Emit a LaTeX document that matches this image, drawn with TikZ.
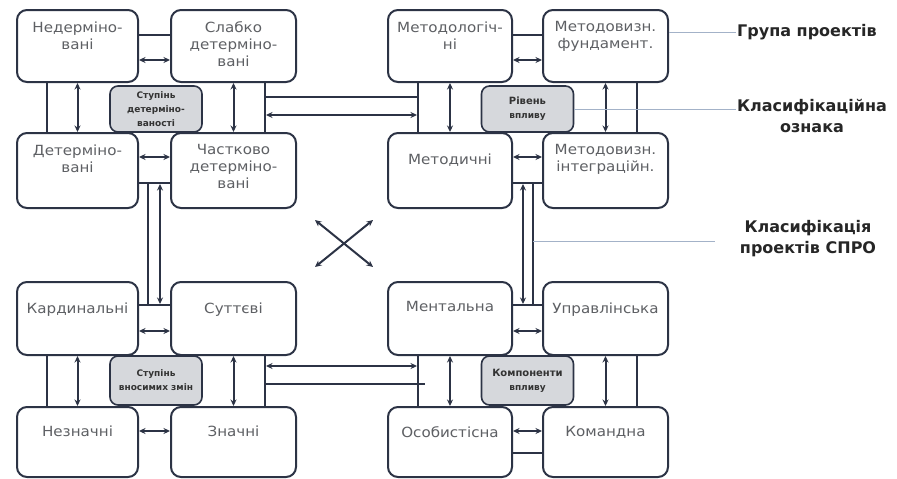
\documentclass[tikz,border=0pt]{standalone}
\usepackage{fontspec}
\setmainfont{DejaVu Sans}
\newfontfamily\boxfont[FakeStretch=1.08]{DejaVu Sans}
\usetikzlibrary{arrows.meta,calc}
\definecolor{ln}{HTML}{2C3345}
\definecolor{gfill}{HTML}{D6D8DC}
\definecolor{txt}{HTML}{5E6064}
\definecolor{leg}{HTML}{A3B2C8}
\newcommand\qbox[7]{%
  \node[box, minimum width=#4-#2, minimum height=#5-#3] (#1) at ({(#2+#4)/2},{(#3+#5)/2}) {};
  \node[btxt] (#1t) at ([yshift=-#6pt]#1.north) {#7};}
\begin{document}
\begin{tikzpicture}[x=1pt,y=-1pt,
  box/.style={draw=ln, line width=2pt, rounded corners=10pt, fill=white, inner sep=0pt},
  gbox/.style={draw=ln, line width=1.6pt, rounded corners=8pt, fill=gfill, minimum width=92pt, align=center, font=\fontsize{9}{14}\selectfont\bfseries, text=black!80, inner sep=0pt},
  btxt/.style={anchor=north, align=center, inner sep=0pt, text=txt, font=\boxfont\fontsize{14}{17}\selectfont},
  con/.style={draw=ln, line width=2pt},
  dar/.style={con, {Stealth[length=6.5pt,width=6pt]}-{Stealth[length=6.5pt,width=6pt]}},
  legline/.style={draw=leg, line width=1pt},
  legtxt/.style={align=center, inner sep=1pt, font=\fontsize{16}{21}\selectfont\bfseries, text=black!85}
]
\fill[white] (0,0) rectangle (897,479);
\useasboundingbox (0,0) rectangle (897,479);

% ---- boxes
\qbox{a1}{17}{10}{138}{82}{12.5}{Недерміно-\\вані}
\qbox{a2}{171}{10}{296}{82}{12.5}{Слабко\\детерміно-\\вані}
\qbox{a3}{17}{133}{138}{208}{12.5}{Детерміно-\\вані}
\qbox{a4}{171}{133}{296}{208}{12.5}{Частково\\детерміно-\\вані}
\qbox{b1}{388}{10}{512}{82}{12.5}{Методологіч-\\ні}
\qbox{b2}{543}{10}{668}{82}{12.5}{Методовизн.\\фундамент.}
\qbox{b3}{388}{133}{512}{208}{21.5}{Методичні}
\qbox{b4}{543}{133}{668}{208}{12.5}{Методовизн.\\інтеграційн.}
\qbox{c1}{17}{282}{138}{355}{21.5}{Кардинальні}
\qbox{c2}{171}{282}{296}{355}{21.5}{Суттєві}
\qbox{c3}{17}{407}{138}{477}{20}{Незначні}
\qbox{c4}{171}{407}{296}{477}{20}{Значні}
\qbox{d1}{388}{282}{512}{355}{20.5}{Ментальна}
\qbox{d2}{543}{282}{668}{355}{21.5}{Управлінська}
\qbox{d3}{388}{407}{512}{477}{20}{Особистісна}
\qbox{d4}{543}{407}{668}{477}{20}{Командна}

% ---- connectors inside quadrants
% top-left
\draw[con] (a1.south -| 47,0) -- (a3.north -| 47,0);
\draw[dar] (a1.south) -- (a3.north);
\draw[dar] (a2.south) -- (a4.north);
\draw[con] (a2.south -| 265,0) -- (a4.north -| 265,0);
\draw[con] (a1.east |- 0,35) -- (a2.west |- 0,35);
\draw[dar] (a1.east |- 0,60) -- (a2.west |- 0,60);
\draw[dar] (a3.east |- 0,157) -- (a4.west |- 0,157);
\draw[con] (a3.east |- 0,183) -- (a4.west |- 0,183);
% top-right
\draw[con] (b1.south -| 418,0) -- (b3.north -| 418,0);
\draw[dar] (b1.south) -- (b3.north);
\draw[dar] (b2.south) -- (b4.north);
\draw[con] (b2.south -| 637,0) -- (b4.north -| 637,0);
\draw[con] (b1.east |- 0,35) -- (b2.west |- 0,35);
\draw[dar] (b1.east |- 0,60) -- (b2.west |- 0,60);
\draw[dar] (b3.east |- 0,157) -- (b4.west |- 0,157);
\draw[con] (b3.east |- 0,183) -- (b4.west |- 0,183);
% bottom-left
\draw[con] (c1.south -| 47,0) -- (c3.north -| 47,0);
\draw[dar] (c1.south) -- (c3.north);
\draw[dar] (c2.south) -- (c4.north);
\draw[con] (c2.south -| 265,0) -- (c4.north -| 265,0);
\draw[con] (c1.east |- 0,305) -- (c2.west |- 0,305);
\draw[dar] (c1.east |- 0,331) -- (c2.west |- 0,331);
\draw[dar] (c3.east |- 0,431) -- (c4.west |- 0,431);
% bottom-right
\draw[con] (d1.south -| 418,0) -- (d3.north -| 418,0);
\draw[dar] (d1.south) -- (d3.north);
\draw[dar] (d2.south) -- (d4.north);
\draw[con] (d2.south -| 637,0) -- (d4.north -| 637,0);
\draw[con] (d1.east |- 0,305) -- (d2.west |- 0,305);
\draw[dar] (d1.east |- 0,331) -- (d2.west |- 0,331);
\draw[dar] (d3.east |- 0,431) -- (d4.west |- 0,431);
\draw[con] (d3.east |- 0,453) -- (d4.west |- 0,453);

% ---- connectors between quadrants
\coordinate (h1a) at (265,97);  \coordinate (h1b) at (418,97);
\coordinate (h2a) at (266,115); \coordinate (h2b) at (417,115);
\coordinate (h3a) at (266,366); \coordinate (h3b) at (417,366);
\coordinate (h4a) at (265,384); \coordinate (h4b) at (425,384);
\draw[con] (h1a) -- (h1b);
\draw[dar] (h2a) -- (h2b);
\draw[dar] (h3a) -- (h3b);
\draw[con] (h4a) -- (h4b);
\coordinate (v1a) at (148,183); \coordinate (v1b) at (148,305);
\coordinate (v2a) at (160,184); \coordinate (v2b) at (160,304);
\coordinate (v3a) at (523,184); \coordinate (v3b) at (523,304);
\coordinate (v4a) at (533,183); \coordinate (v4b) at (533,305);
\draw[con] (v1a) -- (v1b);
\draw[dar] (v2a) -- (v2b);
\draw[dar] (v3a) -- (v3b);
\draw[con] (v4a) -- (v4b);

% ---- central cross
\coordinate (x1) at (315,220); \coordinate (x2) at (373,267);
\coordinate (x3) at (373,220); \coordinate (x4) at (315,267);
\draw[dar] (x1) -- (x2);
\draw[dar] (x3) -- (x4);

% ---- grey classification boxes
\node[gbox, minimum height=46pt] (ga) at (156,109) {Ступінь\\детерміно-\\ваності};
\node[gbox, minimum height=46pt] (gb) at (527.5,109) {\fontsize{10}{16}\selectfont Рівень\\впливу};
\node[gbox, minimum height=49pt] (gc) at (156,380.5) {Ступінь\\вносимих змін};
\node[gbox, minimum height=49pt] (gd) at (527.5,380.5) {\fontsize{10}{16}\selectfont Компоненти\\впливу};

% ---- legend
\node[legtxt, anchor=west] (lg1) at (736,32) {Група проектів};
\draw[legline] (b2.east |- lg1.west) -- (lg1.west);
\node[legtxt] (lg2) at (812,116) {Класифікаційна\\ознака};
\draw[legline] (gb.east) -- (gb.east -| lg2.west);
\node[legtxt] (lg3) at (808,239) {Класифікація\\проектів СПРО};
\coordinate (lgc) at (533,241); \coordinate (lge) at (715,241);
\draw[legline] (lgc) -- (lge);
\end{tikzpicture}
\end{document}
